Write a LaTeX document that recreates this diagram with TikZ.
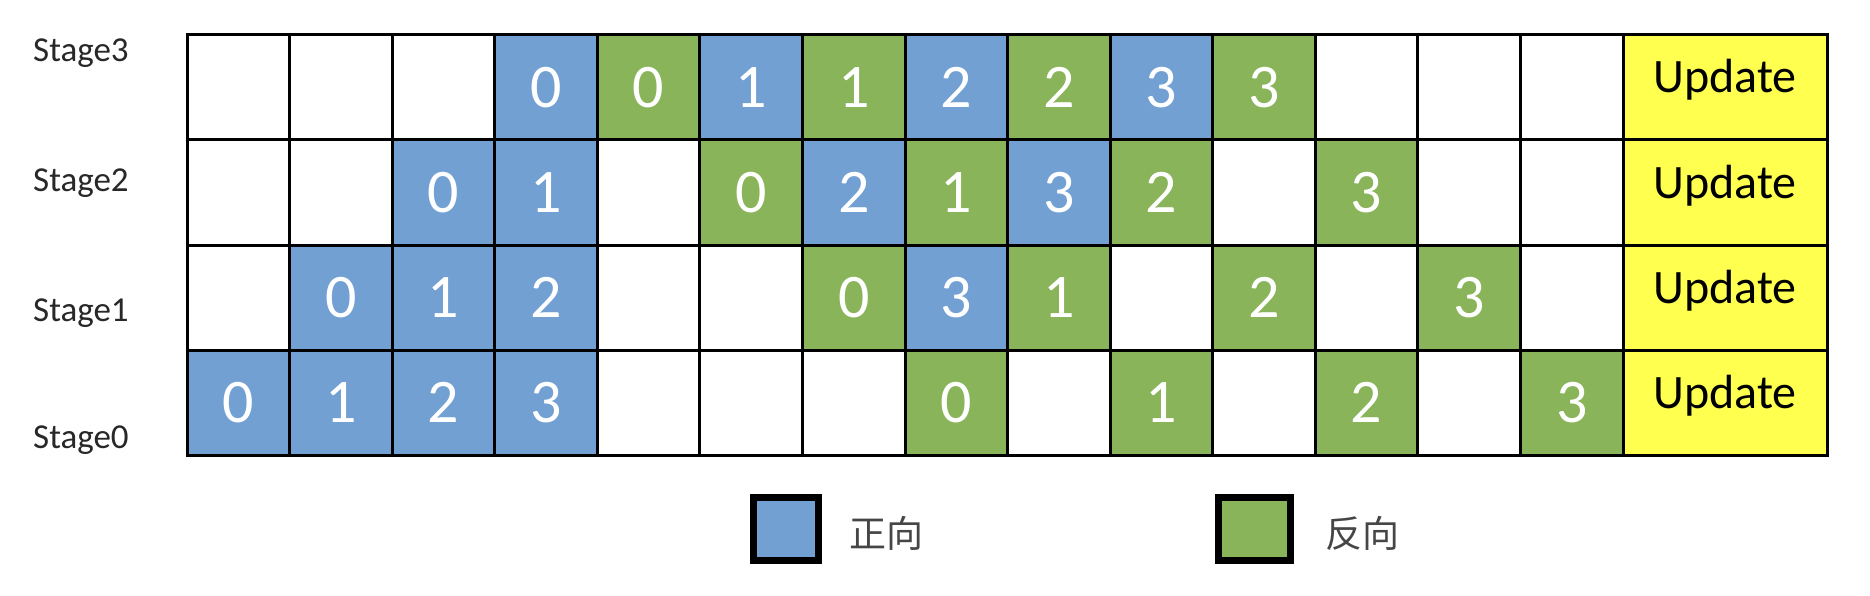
\documentclass[tikz,border=0pt]{standalone}
\usepackage{fontspec}
\setmainfont{Carlito}
\newfontfamily\cjk{Noto Sans CJK SC}
\definecolor{fillf}{RGB}{114,160,211}
\definecolor{fillb}{RGB}{138,180,90}
\definecolor{fille}{RGB}{255,255,255}
\definecolor{fillu}{RGB}{255,255,80}
\definecolor{labelgray}{RGB}{40,40,40}
\definecolor{legendgray}{RGB}{70,70,70}
\tikzset{
  cell/.style={draw=black, line width=3pt, fill=fill#1, minimum width=102.57pt,
    minimum height=105pt, inner sep=0pt, outer sep=0pt, anchor=north west},
  updcell/.style={cell=u, minimum width=204pt},
  num/.style={text=white, font=\fontsize{62}{62}\selectfont, inner sep=0pt},
  updtext/.style={text=black, font=\fontsize{48}{48}\selectfont, inner sep=0pt, anchor=base},
  stagelabel/.style={text=labelgray, font=\fontsize{35}{35}\selectfont, inner sep=0pt, anchor=base west},
  legbox/.style={draw=black, line width=7pt, fill=fill#1, minimum height=63pt, inner sep=0pt, outer sep=0pt},
  legtext/.style={text=legendgray, font=\cjk\fontsize{37}{37}\selectfont, inner sep=0pt, anchor=base west},
}
\begin{document}
\begin{tikzpicture}[x=1pt,y=-1pt]
\useasboundingbox (0,0) rectangle (1870,596);
\fill[white] (0,0) rectangle (1870,596);
\def\ecode{e}
\foreach \row [count=\r from 0] in {
  {e/0,e/0,e/0,f/0,b/0,f/1,b/1,f/2,b/2,f/3,b/3,e/0,e/0,e/0},
  {e/0,e/0,f/0,f/1,e/0,b/0,f/2,b/1,f/3,b/2,e/0,b/3,e/0,e/0},
  {e/0,f/0,f/1,f/2,e/0,e/0,b/0,f/3,b/1,e/0,b/2,e/0,b/3,e/0},
  {f/0,f/1,f/2,f/3,e/0,e/0,e/0,b/0,e/0,b/1,e/0,b/2,e/0,b/3}}{
  \foreach \t/\d [count=\c from 0] in \row {
    \node[cell=\t] (c\r-\c) at ({187+\c*102.57},{35+\r*105}) {};
    \ifx\t\ecode\else
      \node[num] (n\r-\c) at (c\r-\c.center) {\d};
    \fi
  }
  \node[updcell] (u\r) at (1623,{35+\r*105}) {};
  \node[updtext] (ut\r) at ([yshift=-5.5pt]u\r.center) {Update};
}
\node[stagelabel] (s3) at (33,62) {Stage3};
\node[stagelabel] (s2) at (33,192) {Stage2};
\node[stagelabel] (s1) at (33,321) {Stage1};
\node[stagelabel] (s0) at (33,448) {Stage0};
\node[legbox=f, minimum width=65pt] (lf) at (786,529) {};
\node[legbox=b, minimum width=72pt] (lb) at (1254.5,529) {};
\node[legtext] (tf) at (849,547) {正向};
\node[legtext] (tb) at (1325,547) {反向};
\end{tikzpicture}
\end{document}
